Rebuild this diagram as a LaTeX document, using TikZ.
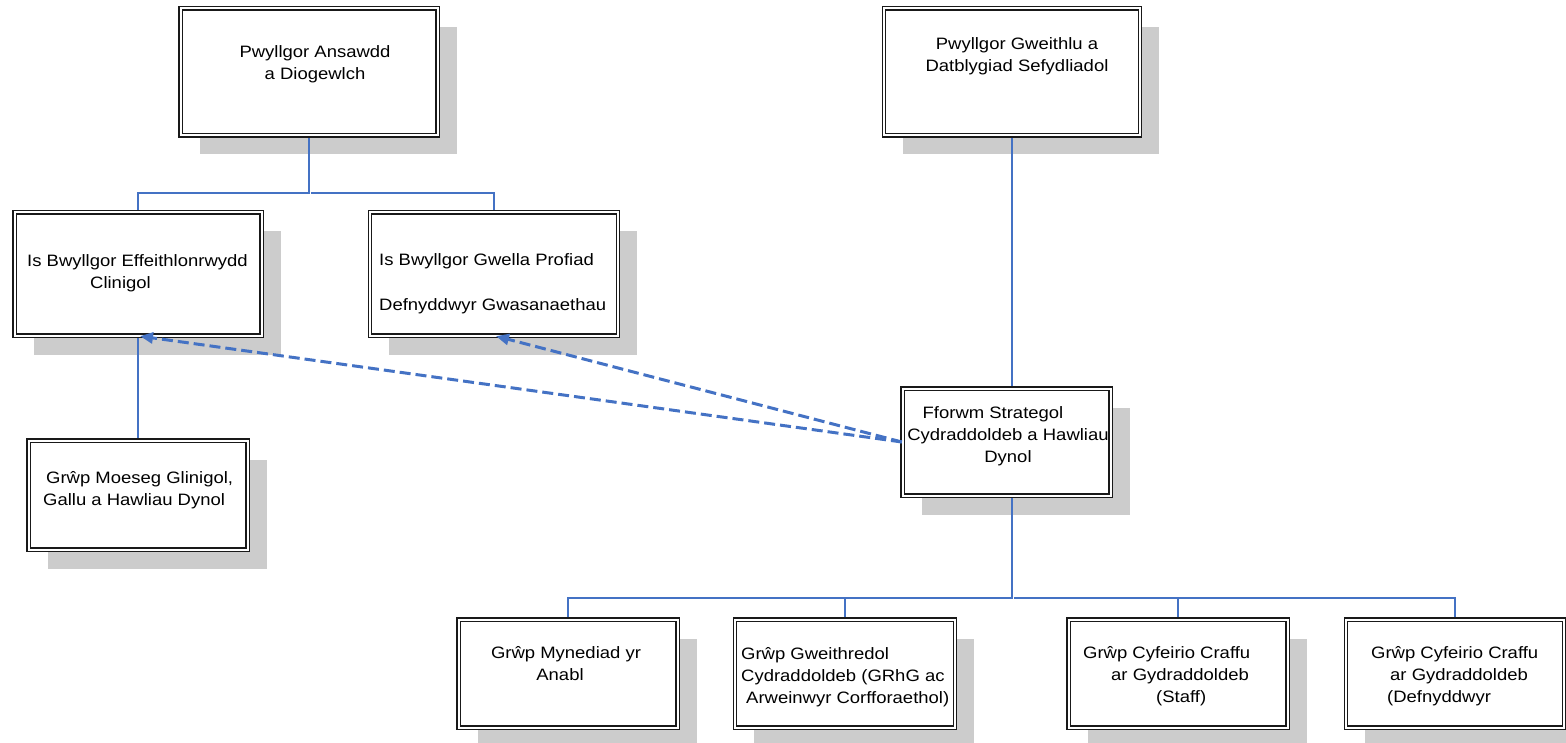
\documentclass[tikz,border=0pt]{standalone}
\usepackage{fontspec}
\newfontfamily\boxfont[FakeStretch=1.12]{Liberation Sans}
\usetikzlibrary{arrows.meta,shadows}
\definecolor{linkblue}{RGB}{68,114,196}
\definecolor{shadowgray}{RGB}{204,204,204}

\begin{document}
\begin{tikzpicture}[x=1pt,y=-1pt,
  box/.style={rectangle,draw=black!90,line width=1.3pt,double=white,double distance=2pt,
    fill=white,inner sep=0pt,
    general shadow={fill=shadowgray,shadow xshift=19pt,shadow yshift=-19pt}},
  lbl/.style={inner sep=0pt,font=\boxfont\fontsize{16.5}{22}\selectfont},
  link/.style={draw=linkblue,line width=1.3pt,shorten <=2pt,shorten >=2pt},
  dashlink/.style={draw=linkblue,line width=3pt,dash pattern=on 11pt off 5pt,
    -{Triangle[length=13pt,width=11pt]}}]

  \useasboundingbox (0,0) rectangle (1566,743);

  % boxes
  \node[box,minimum width=257pt,minimum height=127pt] (quality) at (309,72) {};
  \node[box,minimum width=256pt,minimum height=127pt] (workforce) at (1012,72) {};
  \node[box,minimum width=247pt,minimum height=123pt] (clinical) at (138,274) {};
  \node[box,minimum width=248pt,minimum height=123pt] (experience) at (494,274) {};
  \node[box,minimum width=219pt,minimum height=109pt] (ethics) at (138,495) {};
  \node[box,minimum width=208pt,minimum height=107pt] (forum) at (1006.5,442) {};
  \node[box,minimum width=219pt,minimum height=108pt] (access) at (568,673.5) {};
  \node[box,minimum width=220pt,minimum height=108pt] (exec) at (845,673.5) {};
  \node[box,minimum width=219pt,minimum height=108pt] (staffrev) at (1178,673.5) {};
  \node[box,minimum width=218pt,minimum height=108pt] (userrev) at (1455,673.5) {};

  % texts
  \node[lbl,anchor=north,align=center] (quality-t) at (315,45) {Pwyllgor Ansawdd\\ a Diogewlch};
  \node[lbl,anchor=north,align=center] (workforce-t) at (1017,37) {Pwyllgor Gweithlu a\\Datblygiad Sefydliadol};
  \node[lbl,anchor=north west,align=left] (clinical-t) at (27,254) {Is Bwyllgor Effeithlonrwydd\\\hspace*{63pt}Clinigol};
  \node[lbl,anchor=north west,align=left] (experience-t) at (379,253) {Is Bwyllgor Gwella Profiad\\[23pt]Defnyddwyr Gwasanaethau};
  \node[lbl,anchor=north west,align=left] (ethics-t) at (43,471) {\hspace*{3pt}Grŵp Moeseg Glinigol,\\Gallu a Hawliau Dynol};
  \node[lbl,anchor=north,align=center] (forum-t) at (1008,406) {Fforwm Strategol\hspace*{30pt}\\Cydraddoldeb a Hawliau\\Dynol};
  \node[lbl,anchor=north,align=center] (access-t) at (563,646) {\hspace*{6pt}Grŵp Mynediad yr\\Anabl\hspace*{6pt}};
  \node[lbl,anchor=north west,align=left] (exec-t) at (741,647) {Grŵp Gweithredol\\Cydraddoldeb (GRhG ac\\\hspace*{5pt}Arweinwyr Corfforaethol)};
  \node[lbl,anchor=north west,align=left] (staffrev-t) at (1083,646) {Grŵp Cyfeirio Craffu\\\hspace*{28pt}ar Gydraddoldeb\\\hspace*{73pt}(Staff)};
  \node[lbl,anchor=north west,align=left] (userrev-t) at (1371,646) {Grŵp Cyfeirio Craffu\\\hspace*{19pt}ar Gydraddoldeb\\\hspace*{16pt}(Defnyddwyr};

  % connectors
  \coordinate (qsplit) at (quality.south |- 0,193);
  \coordinate (fsplit) at (workforce.south |- 0,598);
  \draw[link] (quality.south) -- (qsplit) -| (clinical.north);
  \draw[link] (qsplit) -| (experience.north);
  \draw[link] (clinical.south) -- (ethics.north);
  \draw[link] (workforce.south) -- (workforce.south |- forum.north);
  \draw[link] (workforce.south |- forum.south) -- (fsplit) -| (access.north);
  \draw[link] (fsplit) -| (exec.north);
  \draw[link] (fsplit) -| (staffrev.north);
  \draw[link] (fsplit) -| (userrev.north);

  \draw[dashlink] (forum.west) -- ([xshift=2pt]clinical.south);
  \draw[dashlink] (forum.west) -- ([xshift=2pt]experience.south);
\end{tikzpicture}
\end{document}
